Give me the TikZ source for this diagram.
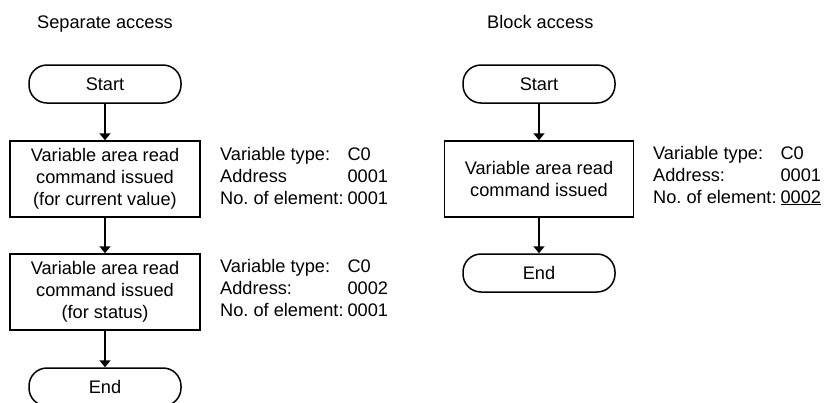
\documentclass[tikz,border=0pt]{standalone}
\usepackage{fontspec}
\setmainfont{Liberation Sans}
\usetikzlibrary{arrows.meta}
\tikzset{
  base/.style={font=\fontsize{18.2}{22}\selectfont, inner sep=0pt},
  term/.style={base, draw, line width=1.5pt, rounded corners=18pt, minimum width=152pt, minimum height=38pt},
  procbox/.style={base, draw, line width=1.5pt, align=center, minimum width=190pt, minimum height=76pt},
  info/.style={base, anchor=base west},
  title/.style={base, anchor=base west},
  flow/.style={line width=1.6pt, -{Triangle[width=11pt,length=7pt]}}
}
\newcommand{\infotab}[3]{\begin{tabular}[t]{@{}l@{\hspace{4pt}}l@{}}Variable type: & C0\\ Address#1 & #2\\ No.\ of element: & #3\end{tabular}}
\newcommand{\ulnum}[1]{\tikz[baseline=0pt]{\node[inner sep=0pt, anchor=base] (u) {#1}; \draw[line width=1.3pt] ([xshift=-1pt,yshift=-5pt]u.base west) -- ([xshift=1pt,yshift=-5pt]u.base east);}}
\begin{document}
\begin{tikzpicture}[x=1pt,y=-1pt]
\useasboundingbox (0,0) rectangle (825,402);
\begin{scope}
\clip (0,0) rectangle (825,402);
% left
\node[title] (t1) at (37,28) {Separate access};
\node[term] (s1) at (105,84) {Start};
\node[procbox] (b1) at (105,179) {Variable area read\\command issued\\(for current value)};
\node[procbox] (b2) at (105,292) {Variable area read\\command issued\\(for status)};
\node[term] (e1) at (105,387) {End};
\draw[flow] (s1) -- (b1);
\draw[flow] (b1) -- (b2);
\draw[flow] (b2) -- (e1);
\node[info] (i1) at (220,160) {\infotab{}{0001}{0001}};
\node[info] (i2) at (220,272) {\infotab{:}{0002}{0001}};
% right
\node[title] (t2) at (487,28) {Block access};
\node[term] (s2) at (539,84) {Start};
\node[procbox, minimum width=189pt] (b3) at (539,179) {Variable area read\\command issued};
\node[term] (e2) at (539,273) {End};
\draw[flow] (s2) -- (b3);
\draw[flow] (b3) -- (e2);
\node[info] (i3) at (653,159) {\infotab{:}{0001}{\underline{0002}}};
\end{scope}
\end{tikzpicture}
\end{document}
